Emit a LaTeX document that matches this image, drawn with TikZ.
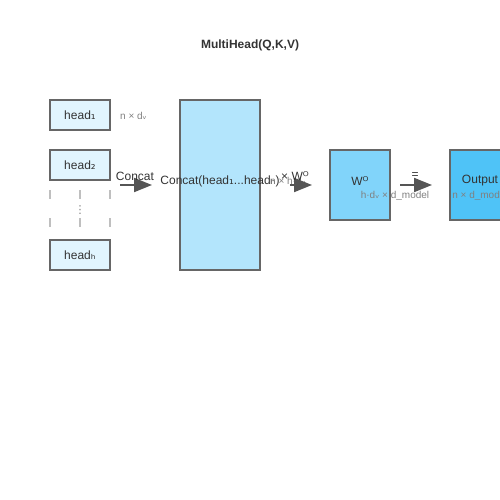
\documentclass[tikz,border=0pt]{standalone}
\usepackage{fontspec}
\setmainfont{Liberation Sans}
\newfontfamily\glyphfont{DejaVu Sans}
\newcommand{\ix}[1]{{\glyphfont #1}}
\definecolor{HeadFill}{HTML}{E1F5FE}
\definecolor{ConcatFill}{HTML}{B3E5FC}
\definecolor{WeightFill}{HTML}{81D4FA}
\definecolor{OutFill}{HTML}{4FC3F7}
\definecolor{EdgeGrey}{HTML}{666666}
\definecolor{TextDark}{HTML}{333333}
\definecolor{ArrowGrey}{HTML}{555555}
\usetikzlibrary{arrows.meta}
\tikzset{
  block/.style = {draw = EdgeGrey, line width = 1.3pt, inner sep = 0pt, text = TextDark, font = \fontsize{12}{14}\selectfont},
  dimlabel/.style = {text = gray, font = \fontsize{10}{12}\selectfont, inner sep = 0pt},
  oplabel/.style = {text = TextDark, font = \fontsize{12}{14}\selectfont, inner sep = 0pt},
  flow/.style = {draw = ArrowGrey, line width = 2pt, -{Triangle[length = 18pt, width = 14pt]}},
  gap/.style = {draw = gray!50, line width = 1.5pt, dash pattern = on 9pt off 19pt}
}

\begin{document}
\begin{tikzpicture}[x = 1pt, y = -1pt]

\useasboundingbox (0, 0) rectangle (500, 500);
\clip (0, 0) rectangle (500, 500);

\node[font = \bfseries\fontsize{12}{14}\selectfont, text = TextDark] (title) at (250, 45) {MultiHead(Q,K,V)};

% heads
\node[block, fill = HeadFill, minimum width = 60pt, minimum height = 30pt] (h1) at (80, 115) {head\ix{₁}};
\node[block, fill = HeadFill, minimum width = 60pt, minimum height = 30pt] (h2) at (80, 165) {head\ix{₂}};
\node[block, fill = HeadFill, minimum width = 60pt, minimum height = 30pt] (hh) at (80, 255) {head\ix{ₕ}};
\node[dimlabel, anchor = west] (d1) at (120, 116) {n × d\ix{ᵥ}};

\foreach \x in {50, 80, 110}
  \draw[gap] (\x, 190) -- (\x, 236);
\node[text = gray, font = \fontsize{11}{13}\selectfont] (dots) at (80, 210) {\ix{⋮}};

% concat
\coordinate (c0) at (120, 185);
\coordinate (c1) at (152, 185);
\draw[flow] (c0) -- (c1);
\node[oplabel] (concat) at (135, 176) {Concat};

\node[block, fill = ConcatFill, minimum width = 80pt, minimum height = 170pt] (cat) at (220, 185) {};
\node[oplabel] (catlbl) at (220, 181) {Concat(head\ix{₁}...head\ix{ₕ})};
\node[dimlabel] (d2) at (288, 181) {n × h·d\ix{ᵥ}};

% projection
\coordinate (p0) at (290, 185);
\coordinate (p1) at (312, 185);
\draw[flow] (p0) -- (p1);
\node[oplabel] (times) at (295, 176) {× W\ix{ᴼ}};

\node[block, fill = WeightFill, minimum width = 60pt, minimum height = 70pt] (wo) at (360, 185) {};
\node[oplabel] (wolbl) at (360, 181) {W\ix{ᴼ}};
\node[dimlabel] (d3) at (395, 196) {h·d\ix{ᵥ} × d\_model};

% result
\coordinate (r0) at (400, 185);
\coordinate (r1) at (432, 185);
\draw[flow] (r0) -- (r1);
\node[oplabel] (eq) at (415, 176) {=};

\node[block, fill = OutFill, minimum width = 60pt, minimum height = 70pt] (out) at (480, 185) {};
\node[oplabel] (outlbl) at (480, 181) {Output};
\node[dimlabel] (d4) at (480, 196) {n × d\_model};

\end{tikzpicture}
\end{document}
